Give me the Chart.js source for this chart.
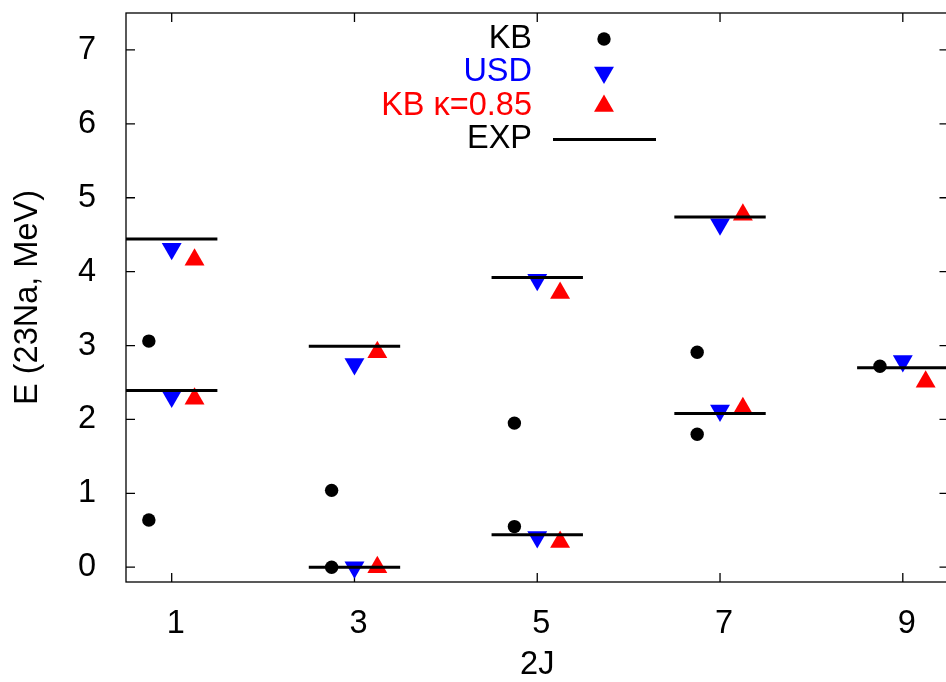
<!DOCTYPE html>
<html>
<head>
<meta charset="utf-8">
<script src="https://cdn.jsdelivr.net/npm/chart.js@4.4.1/dist/chart.umd.min.js"></script>
<style>
  html, body { margin: 0; padding: 0; background: #fff; overflow: hidden; }
  #wrap { width: 960px; height: 682px; position: relative; }
</style>
</head>
<body>
<div id="wrap"><canvas id="levels"></canvas></div>
<script>
// 2J of each level and its energy in MeV, one entry per level
var stateJ = [1, 1, 3, 3, 5, 5, 7, 7, 9];
var kbE    = [3.06, 0.64, 1.04, 0.00, 1.95, 0.55, 2.91, 1.80, 2.72];
var usdE   = [4.31, 2.31, 2.75, 0.00, 3.89, 0.41, 4.64, 2.12, 2.79];
var kbkE   = [4.16, 2.28, 2.91, 0.00, 3.71, 0.34, 4.77, 2.15, 2.51];
var expE   = [4.44, 2.39, 2.99, 0.00, 3.92, 0.44, 4.74, 2.08, 2.70];

var xTicks = [1, 3, 5, 7, 9];
var yTicks = [0, 1, 2, 3, 4, 5, 6, 7];

var FONT = '"Liberation Sans", Arial, sans-serif';
var FONT_SIZE = 32.5;

// calculations sit side by side around each 2J value
function shifted(es, dx) {
  return es.map(function (e, i) { return { x: stateJ[i] + dx, y: e }; });
}

// experimental levels as short horizontal bars, broken by null points
function bars(es) {
  var pts = [];
  es.forEach(function (e, i) {
    pts.push({ x: stateJ[i] - 0.5, y: e });
    pts.push({ x: stateJ[i] + 0.5, y: e });
    pts.push({ x: stateJ[i] + 0.5, y: null });
  });
  return pts;
}

// gnuplot style border with inward ticks on all four sides
var framePlugin = {
  id: 'frame',
  beforeDatasetsDraw: function (chart) {
    var ctx = chart.ctx, a = chart.chartArea;
    var xs = chart.scales.x, ys = chart.scales.y;
    var len = 9;
    ctx.save();
    ctx.strokeStyle = '#000';
    ctx.lineWidth = 1.3;
    ctx.strokeRect(a.left, a.top, a.right - a.left, a.bottom - a.top);
    ctx.beginPath();
    xTicks.forEach(function (v) {
      var px = xs.getPixelForValue(v);
      ctx.moveTo(px, a.bottom); ctx.lineTo(px, a.bottom - len);
      ctx.moveTo(px, a.top); ctx.lineTo(px, a.top + len);
    });
    yTicks.forEach(function (v) {
      var py = ys.getPixelForValue(v);
      ctx.moveTo(a.left, py); ctx.lineTo(a.left + len, py);
      ctx.moveTo(a.right, py); ctx.lineTo(a.right - len, py);
    });
    ctx.stroke();
    ctx.restore();
  }
};

// key in the upper middle: right-aligned titles, samples to their right
var keyPlugin = {
  id: 'key',
  afterDraw: function (chart) {
    var ctx = chart.ctx, a = chart.chartArea;
    var textRight = a.left + 406, sampleX = a.left + 478;
    var rowY = a.top + 26, step = 33.5;
    ctx.save();
    ctx.font = FONT_SIZE + 'px ' + FONT;
    ctx.textAlign = 'right';
    ctx.textBaseline = 'middle';
    chart.data.datasets.forEach(function (ds, i) {
      var y = rowY + i * step;
      ctx.fillStyle = ds.keyColor;
      ctx.fillText(ds.label, textRight, y);
      if (ds.showLine) {
        ctx.strokeStyle = ds.borderColor;
        ctx.lineWidth = ds.borderWidth;
        ctx.beginPath();
        ctx.moveTo(sampleX - 51, y);
        ctx.lineTo(sampleX + 52, y);
        ctx.stroke();
      } else {
        ctx.fillStyle = ds.backgroundColor;
        Chart.helpers.drawPoint(ctx, {
          pointStyle: ds.pointStyle,
          radius: ds.pointRadius,
          rotation: ds.pointRotation || 0,
          borderWidth: 0
        }, sampleX, y);
      }
    });
    ctx.restore();
  }
};

var ctx = document.getElementById('levels').getContext('2d');
var levelChart = new Chart(ctx, {
  type: 'scatter',
  data: {
    datasets: [
      {
        label: 'KB',
        keyColor: '#000000',
        data: shifted(kbE, -0.25),
        pointStyle: 'circle',
        pointRadius: 6.7,
        pointBorderWidth: 0,
        backgroundColor: '#000000',
        borderColor: '#000000',
        order: 3
      },
      {
        label: 'USD',
        keyColor: '#0000ff',
        data: shifted(usdE, 0),
        pointStyle: 'triangle',
        pointRotation: 180,
        pointRadius: 11.5,
        pointBorderWidth: 0,
        backgroundColor: '#0000ff',
        borderColor: '#0000ff',
        order: 2
      },
      {
        label: 'KB \u03ba=0.85',
        keyColor: '#ff0000',
        data: shifted(kbkE, 0.25),
        pointStyle: 'triangle',
        pointRadius: 11.5,
        pointBorderWidth: 0,
        backgroundColor: '#ff0000',
        borderColor: '#ff0000',
        order: 1
      },
      {
        label: 'EXP',
        keyColor: '#000000',
        data: bars(expE),
        showLine: true,
        spanGaps: false,
        pointRadius: 0,
        borderColor: '#000000',
        borderWidth: 3,
        order: 0
      }
    ]
  },
  options: {
    responsive: true,
    maintainAspectRatio: false,
    animation: false,
    events: [],
    layout: { padding: { left: 0, right: 7, top: 13, bottom: 0 } },
    plugins: {
      legend: { display: false },
      tooltip: { enabled: false }
    },
    scales: {
      x: {
        type: 'linear',
        min: 0.5,
        max: 9.5,
        grid: { display: false },
        border: { display: false },
        afterBuildTicks: function (scale) {
          scale.ticks = xTicks.map(function (v) { return { value: v }; });
        },
        afterFit: function (scale) {
          scale.height = 100;
          scale.paddingLeft = 0;
          scale.paddingRight = 0;
        },
        ticks: {
          color: '#000',
          padding: 14.5,
          labelOffset: 4,
          maxRotation: 0,
          font: { family: FONT, size: FONT_SIZE },
          callback: function (v) { return v; }
        },
        title: {
          display: true,
          text: '2J',
          color: '#000',
          padding: { top: 0, bottom: -3 },
          font: { family: FONT, size: FONT_SIZE }
        }
      },
      y: {
        type: 'linear',
        min: -0.2,
        max: 7.5,
        grid: { display: false },
        border: { display: false },
        afterBuildTicks: function (scale) {
          scale.ticks = yTicks.map(function (v) { return { value: v }; });
        },
        afterFit: function (scale) {
          scale.width = 126;
          scale.paddingTop = 0;
          scale.paddingBottom = 0;
        },
        ticks: {
          color: '#000',
          padding: 22,
          font: { family: FONT, size: FONT_SIZE },
          callback: function (v) { return v; }
        },
        title: {
          display: true,
          text: 'E (23Na, MeV)',
          color: '#000',
          padding: { top: 8.5, bottom: 0 },
          font: { family: FONT, size: FONT_SIZE }
        }
      }
    }
  },
  plugins: [framePlugin, keyPlugin]
});
</script>
</body>
</html>
